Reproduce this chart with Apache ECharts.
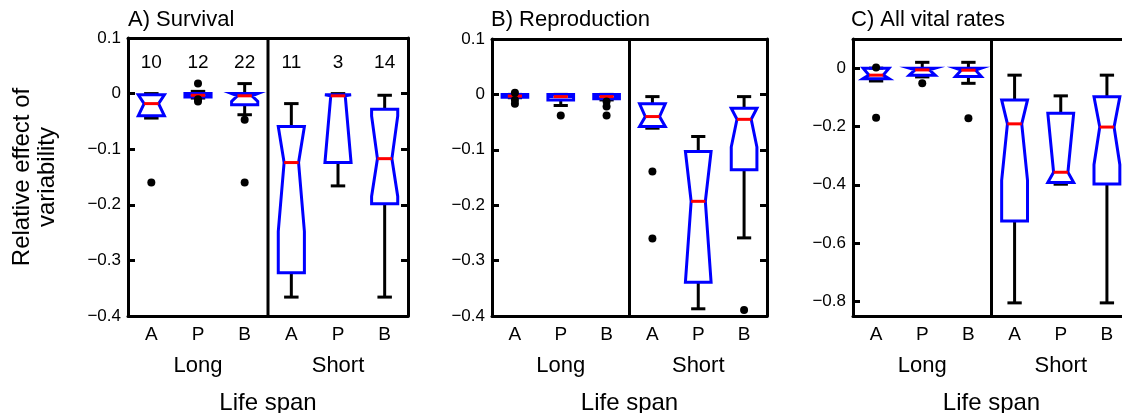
<!DOCTYPE html>
<html>
<head>
<meta charset="utf-8">
<script src="https://cdn.jsdelivr.net/npm/echarts@6/dist/echarts.min.js"></script>
<style>
  html, body { margin: 0; padding: 0; background: #fff; }
  #chart { width: 1122px; height: 413px; }
</style>
</head>
<body>
<div id="chart"></div>
<script>
// ---------------- data ----------------
const cats = ['A', 'P', 'B', 'A', 'P', 'B'];
const groups = ['Long', 'Short'];
const titles = ['A) Survival', 'B) Reproduction', 'C) All vital rates'];
const countsSurvival = ['10', '12', '22', '11', '3', '14'];
const axisTitleX = 'Life span';
const axisTitleY = 'Relative effect of\nvariability';

// box stats per category: [low whisker, q1, notch low, median, notch high, q3, high whisker]
const survivalBoxes = [
  [-0.044, -0.040, -0.040, -0.018, -0.002, -0.002, 0.000],
  [-0.008, -0.006, -0.003, -0.003, -0.003, 0.000, 0.004],
  [-0.038, -0.020, -0.014, -0.004, 0.000, 0.000, 0.018],
  [-0.366, -0.322, -0.248, -0.124, -0.059, -0.059, -0.018],
  [-0.166, -0.124, -0.124, -0.004, -0.002, -0.002, 0.000],
  [-0.366, -0.198, -0.185, -0.117, -0.040, -0.028, -0.003]
];
const survivalOutliers = [
  [0, -0.160], [1, 0.018], [1, -0.010], [1, -0.014],
  [2, -0.047], [2, -0.160]
];

const reproductionBoxes = [
  [-0.006, -0.005, -0.003, -0.003, -0.003, 0.000, 0.000],
  [-0.020, -0.010, -0.004, -0.004, -0.004, 0.000, 0.000],
  [-0.010, -0.008, -0.004, -0.004, -0.004, 0.000, 0.000],
  [-0.061, -0.058, -0.058, -0.040, -0.017, -0.017, -0.004],
  [-0.387, -0.339, -0.339, -0.193, -0.103, -0.103, -0.076],
  [-0.259, -0.136, -0.095, -0.045, -0.025, -0.025, -0.004]
];
const reproductionOutliers = [
  [0, 0.003], [0, -0.010], [0, -0.017],
  [1, -0.038],
  [2, -0.013], [2, -0.022], [2, -0.038],
  [3, -0.139], [3, -0.260],
  [5, -0.389]
];

const allRatesBoxes = [
  [-0.044, -0.036, -0.036, -0.024, 0.000, 0.000, 0.000],
  [-0.030, -0.024, -0.024, -0.006, 0.000, 0.000, 0.020],
  [-0.052, -0.029, -0.029, -0.007, 0.000, 0.000, 0.020],
  [-0.805, -0.524, -0.385, -0.191, -0.109, -0.109, -0.024],
  [-0.398, -0.392, -0.392, -0.357, -0.155, -0.155, -0.095],
  [-0.805, -0.397, -0.331, -0.202, -0.098, -0.098, -0.024]
];
const allRatesOutliers = [
  [0, 0.002], [0, -0.170],
  [1, -0.052],
  [2, -0.172]
];

const yTicksAB = [0.1, 0, -0.1, -0.2, -0.3, -0.4];
const yTicksC = [0, -0.2, -0.4, -0.6, -0.8];
const yRangeAB = [-0.4, 0.1];
const yRangeC = [-0.85, 0.1];

// ---------------- layout / style ----------------
const FONT = "'Liberation Sans', Arial, Helvetica, sans-serif";
const BLACK = '#000000';
const panels = [
  { grid: { left: 128, top: 38, width: 280, height: 278 }, boxes: survivalBoxes, outliers: survivalOutliers, counts: countsSurvival, ticks: yTicksAB, range: yRangeAB, yName: axisTitleY, titleLeft: 128 },
  { grid: { left: 492, top: 39, width: 275, height: 277 }, boxes: reproductionBoxes, outliers: reproductionOutliers, counts: null, ticks: yTicksAB, range: yRangeAB, yName: '', titleLeft: 491 },
  { grid: { left: 853, top: 39, width: 277, height: 277 }, boxes: allRatesBoxes, outliers: allRatesOutliers, counts: null, ticks: yTicksC, range: yRangeC, yName: '', titleLeft: 851 }
];

function fmtTick(v) {
  if (Math.abs(v) < 1e-9) return '0';
  return (v < 0 ? '\u2212' : '') + Math.abs(v).toFixed(1);
}

function renderBox(params, api) {
  const i = api.value(0);
  const low = api.value(1), q1 = api.value(2), nLo = api.value(3), med = api.value(4),
        nHi = api.value(5), q3 = api.value(6), high = api.value(7);
  const band = api.size([1, 0])[0];
  const hw = band * 0.28, nw = band * 0.155, cw = band * 0.155;
  const cx = api.coord([i, med])[0];
  const y = v => api.coord([i, v])[1];
  const blackLine = { stroke: BLACK, lineWidth: 3 };
  const children = [];
  // whiskers
  children.push({ type: 'line', shape: { x1: cx, y1: y(q3), x2: cx, y2: y(high) }, style: blackLine });
  children.push({ type: 'line', shape: { x1: cx - cw, y1: y(high), x2: cx + cw, y2: y(high) }, style: blackLine });
  children.push({ type: 'line', shape: { x1: cx, y1: y(q1), x2: cx, y2: y(low) }, style: blackLine });
  children.push({ type: 'line', shape: { x1: cx - cw, y1: y(low), x2: cx + cw, y2: y(low) }, style: blackLine });
  // notched box
  const pts = [
    [cx - hw, y(q1)], [cx - hw, y(nLo)], [cx - nw, y(med)], [cx - hw, y(nHi)], [cx - hw, y(q3)],
    [cx + hw, y(q3)], [cx + hw, y(nHi)], [cx + nw, y(med)], [cx + hw, y(nLo)], [cx + hw, y(q1)]
  ];
  children.push({ type: 'polygon', shape: { points: pts }, style: { fill: 'rgba(255,255,255,0)', stroke: '#0000ff', lineWidth: 3, lineJoin: 'miter' } });
  // median
  children.push({ type: 'line', shape: { x1: cx - nw, y1: y(med), x2: cx + nw, y2: y(med) }, style: { stroke: '#ff0000', lineWidth: 3 } });
  return { type: 'group', children: children };
}

function renderSeparator(params, api) {
  const cs = params.coordSys;
  const x2 = api.coord([2, 0])[0];
  const x3 = api.coord([3, 0])[0];
  const xm = (x2 + x3) / 2;
  return { type: 'line', shape: { x1: xm, y1: cs.y, x2: xm, y2: cs.y + cs.height }, style: { stroke: BLACK, lineWidth: 3 } };
}

const option = {
  animation: false,
  backgroundColor: '#ffffff',
  textStyle: { fontFamily: FONT },
  title: [], grid: [], xAxis: [], yAxis: [], series: []
};

panels.forEach((p, k) => {
  option.title.push({
    text: titles[k], left: p.titleLeft, top: 9, padding: 0,
    textStyle: { fontFamily: FONT, fontSize: 22, fontWeight: 'normal', color: BLACK }
  });
  option.grid.push(Object.assign({ containLabel: false, outerBoundsMode: 'none' }, p.grid));
  const xb = option.xAxis.length;
  // bottom categories
  option.xAxis.push({
    type: 'category', gridIndex: k, position: 'bottom', data: cats, boundaryGap: true,
    axisLine: { onZero: false, lineStyle: { color: BLACK, width: 3 } },
    axisTick: { inside: true, length: 8, alignWithLabel: true, lineStyle: { color: BLACK, width: 3 } },
    axisLabel: { color: BLACK, fontSize: 19, margin: 9, fontFamily: FONT },
    splitLine: { show: false }
  });
  // group labels
  option.xAxis.push({
    type: 'category', gridIndex: k, position: 'bottom', data: groups, boundaryGap: true,
    axisLine: { show: false, onZero: false }, axisTick: { show: false },
    axisLabel: { color: BLACK, fontSize: 22, margin: 39, fontFamily: FONT },
    name: axisTitleX, nameLocation: 'middle', nameGap: 75,
    nameTextStyle: { color: BLACK, fontSize: 24, fontFamily: FONT },
    splitLine: { show: false }
  });
  // top axis (counts)
  option.xAxis.push({
    type: 'category', gridIndex: k, position: 'top', data: p.counts || cats, boundaryGap: true,
    axisLine: { onZero: false, lineStyle: { color: BLACK, width: 3 } },
    axisTick: { inside: true, length: 8, alignWithLabel: true, lineStyle: { color: BLACK, width: 3 } },
    axisLabel: { show: !!p.counts, inside: true, color: BLACK, fontSize: 19, margin: 15, fontFamily: FONT },
    splitLine: { show: false }
  });
  const yl = option.yAxis.length;
  option.yAxis.push({
    type: 'value', gridIndex: k, position: 'left', min: p.range[0], max: p.range[1],
    axisLine: { show: true, onZero: false, lineStyle: { color: BLACK, width: 3 } },
    axisTick: { show: true, inside: true, length: 7, customValues: p.ticks, lineStyle: { color: BLACK, width: 3 } },
    axisLabel: { color: BLACK, fontSize: 17, margin: 7, customValues: p.ticks, formatter: fmtTick, fontFamily: FONT },
    splitLine: { show: false },
    name: p.yName, nameLocation: 'middle', nameRotate: 90, nameGap: 68,
    nameTextStyle: { color: BLACK, fontSize: 24, lineHeight: 25, fontFamily: FONT }
  });
  option.yAxis.push({
    type: 'value', gridIndex: k, position: 'right', min: p.range[0], max: p.range[1],
    axisLine: { show: true, onZero: false, lineStyle: { color: BLACK, width: 3 } },
    axisTick: { show: true, inside: true, length: 7, customValues: p.ticks, lineStyle: { color: BLACK, width: 3 } },
    axisLabel: { show: false },
    splitLine: { show: false }
  });
  option.series.push({
    type: 'custom', coordinateSystem: 'cartesian2d', xAxisIndex: xb, yAxisIndex: yl,
    renderItem: renderSeparator, data: [[0, 0]], silent: true, z: 3
  });
  option.series.push({
    type: 'custom', coordinateSystem: 'cartesian2d', xAxisIndex: xb, yAxisIndex: yl,
    renderItem: renderBox,
    data: p.boxes.map((b, i) => [i].concat(b)),
    encode: { x: 0, y: [1, 2, 3, 4, 5, 6, 7] }, silent: true, z: 4
  });
  option.series.push({
    type: 'scatter', xAxisIndex: xb, yAxisIndex: yl,
    data: p.outliers, symbol: 'circle', symbolSize: 8,
    itemStyle: { color: BLACK, opacity: 1 }, silent: true, z: 5
  });
});

const chart = echarts.init(document.getElementById('chart'), null, { renderer: 'canvas' });
chart.setOption(option);
</script>
</body>
</html>
